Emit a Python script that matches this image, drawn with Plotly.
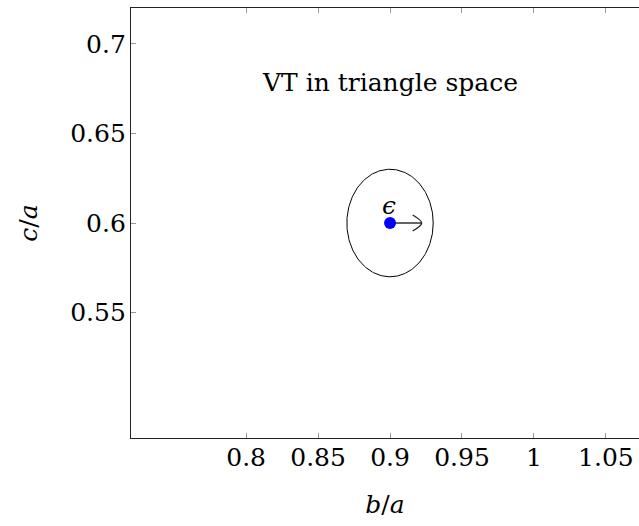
import plotly.graph_objects as go
import numpy as np

# Data: a single triangle point in (b/a, c/a) space and its epsilon neighbourhood
point_b = [0.9]
point_c = [0.6]
eps_radius = 0.03
arrow_tip_b = 0.922
label_text = "VT in triangle space"
label_pos = (0.9, 0.68)

x_ticks = [0.8, 0.85, 0.9, 0.95, 1.0, 1.05]
x_tick_text = ["0.8", "0.85", "0.9", "0.95", "1", "1.05"]
y_ticks = [0.55, 0.6, 0.65, 0.7]
y_tick_text = ["0.55", "0.6", "0.65", "0.7"]
x_range = [0.72, 1.073]
y_range = [0.48, 0.72]

W, H = 639, 526
ML, MR, MT, MB = 131.4, 0, 8, 88.3
px_per_x = (W - ML - MR) / (x_range[1] - x_range[0])
px_per_y = (H - MT - MB) / (y_range[1] - y_range[0])

FONT = "DejaVu Serif"
FS = 25

fig = go.Figure()

# circle of radius eps around the point
theta = np.linspace(0, 2 * np.pi, 241)
fig.add_trace(go.Scatter(
    x=point_b[0] + eps_radius * np.cos(theta),
    y=point_c[0] + eps_radius * np.sin(theta),
    mode="lines", line=dict(color="black", width=1),
    hoverinfo="skip", showlegend=False))

# arrow shaft
fig.add_trace(go.Scatter(
    x=[point_b[0], arrow_tip_b], y=[point_c[0], point_c[0]],
    mode="lines", line=dict(color="#222222", width=1.4),
    hoverinfo="skip", showlegend=False))

# open arrow head
hx = 9 / px_per_x
hy = 8 / px_per_y
fig.add_trace(go.Scatter(
    x=[arrow_tip_b - hx, arrow_tip_b, arrow_tip_b - hx],
    y=[point_c[0] + hy, point_c[0], point_c[0] - hy],
    mode="lines", line=dict(color="#222222", width=1.3, shape="spline"),
    hoverinfo="skip", showlegend=False))

# the point itself
fig.add_trace(go.Scatter(
    x=point_b, y=point_c, mode="markers",
    marker=dict(color="#0000ff", size=12, line=dict(width=0)),
    hoverinfo="skip", showlegend=False))

fig.add_annotation(x=point_b[0], y=point_c[0], text="<i>ϵ</i>", showarrow=False,
                   yshift=18, xshift=-1, font=dict(family=FONT, size=FS, color="black"))
fig.add_annotation(x=label_pos[0], y=label_pos[1], text=label_text, showarrow=False,
                   yshift=-3, font=dict(family=FONT, size=FS, color="black"))

axis_common = dict(
    showgrid=False, zeroline=False, showline=True, linecolor="#222222", linewidth=1.3,
    ticks="inside", ticklen=5, tickwidth=1, tickcolor="#999999",
    tickfont=dict(family=FONT, size=FS, color="black"),
)

fig.update_layout(
    width=W, height=H,
    margin=dict(l=ML, r=MR, t=MT, b=MB, pad=0),
    paper_bgcolor="white", plot_bgcolor="white",
    xaxis=dict(range=x_range, tickvals=x_ticks, ticktext=x_tick_text, mirror="ticks",
               title=dict(text="<i>b</i>/<i>a</i>", standoff=24,
                          font=dict(family=FONT, size=FS, color="black")),
               ticklabelstandoff=-3, **axis_common),
    yaxis=dict(range=y_range, tickvals=y_ticks, ticktext=y_tick_text, mirror=False,
               title=dict(text="<i>c</i>/<i>a</i>", standoff=25,
                          font=dict(family=FONT, size=FS, color="black")),
               ticklabelstandoff=-1, **axis_common),
)

fig.write_html("out.html")
